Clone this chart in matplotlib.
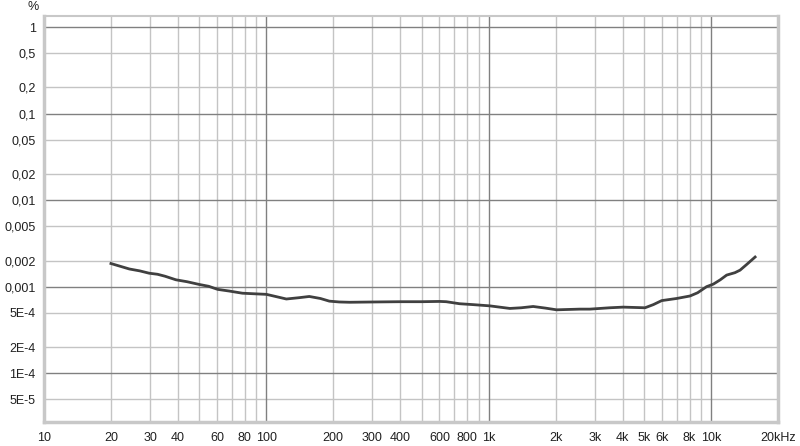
import math
import matplotlib
matplotlib.use("Agg")
import matplotlib.pyplot as plt
from matplotlib.ticker import FixedLocator, NullLocator, NullFormatter

freq_hz = [20, 24.2, 27, 29.7, 32.4, 35, 39.2, 44, 49.9, 55, 60.4, 68, 78, 90, 100,
           110, 123, 140, 156, 175, 192, 213, 237, 301, 400, 500, 601, 644, 739, 850,
           1010, 1245, 1400, 1585, 1800, 2019, 2570, 2850, 3500, 4030, 5045, 5500, 6000,
           7000, 8040, 8700, 9550, 10240, 11000, 11750, 12800, 13500, 14480, 15780]
thd_pct = [1.85e-3, 1.60e-3, 1.52e-3, 1.43e-3, 1.39e-3, 1.32e-3, 1.20e-3, 1.14e-3, 1.06e-3, 1.01e-3,
           0.93e-3, 0.89e-3, 0.84e-3, 0.825e-3, 0.815e-3,
           0.77e-3, 0.72e-3, 0.745e-3, 0.77e-3, 0.73e-3, 0.68e-3, 0.665e-3, 0.66e-3, 0.665e-3, 0.67e-3,
           0.67e-3, 0.675e-3, 0.67e-3, 0.635e-3, 0.62e-3,
           0.60e-3, 0.56e-3, 0.57e-3, 0.59e-3, 0.565e-3, 0.54e-3, 0.55e-3, 0.55e-3, 0.57e-3, 0.58e-3,
           0.57e-3, 0.62e-3, 0.69e-3,
           0.73e-3, 0.78e-3, 0.85e-3, 1.0e-3, 1.07e-3, 1.2e-3, 1.36e-3, 1.45e-3, 1.55e-3, 1.81e-3, 2.2e-3]

x_tick_vals = [10, 20, 30, 40, 60, 80, 100, 200, 300, 400, 600, 800, 1000,
               2000, 3000, 4000, 5000, 6000, 8000, 10000, 20000]
x_tick_labels = ["10", "20", "30", "40", "60", "80", "100", "200", "300", "400", "600", "800", "1k",
                 "2k", "3k", "4k", "5k", "6k", "8k", "10k", "20kHz"]
y_tick_vals = [1, 0.5, 0.2, 0.1, 0.05, 0.02, 0.01, 0.005, 0.002, 0.001, 5e-4, 2e-4, 1e-4, 5e-5]
y_tick_labels = ["1", "0,5", "0,2", "0,1", "0,05", "0,02", "0,01", "0,005", "0,002", "0,001",
                 "5E-4", "2E-4", "1E-4", "5E-5"]

plt.rcParams['font.family'] = ['Liberation Sans', 'DejaVu Sans']

fig = plt.figure(figsize=(8, 4.46), dpi=100)
ax = fig.add_axes([44/800, 24/446, (778-44)/800, (422-16)/446])
ax.set_xscale('log')
ax.set_yscale('log')
ax.set_xlim(10, 20000)
ax.set_ylim(2.73e-5, 1.34)

minor_x = [m * d for d in (10, 100, 1000, 10000) for m in range(2, 10) if m * d < 20000]
for xv in minor_x:
    ax.axvline(xv, color='#c4c4c4', lw=1, zorder=1)
for xv in (100, 1000, 10000):
    ax.axvline(xv, color='#808080', lw=1, zorder=1.1)
for yv in y_tick_vals:
    major = abs(round(math.log10(yv)) - math.log10(yv)) < 1e-9
    ax.axhline(yv, color='#808080' if major else '#c4c4c4', lw=1, zorder=1.1 if major else 1)

ax.plot(freq_hz, thd_pct, color='#404040', lw=2, zorder=3, solid_joinstyle='round')

ax.xaxis.set_major_locator(FixedLocator(x_tick_vals))
ax.xaxis.set_minor_locator(NullLocator())
ax.xaxis.set_minor_formatter(NullFormatter())
ax.set_xticklabels(x_tick_labels)
ax.yaxis.set_major_locator(FixedLocator(y_tick_vals))
ax.yaxis.set_minor_locator(NullLocator())
ax.yaxis.set_minor_formatter(NullFormatter())
ax.set_yticklabels(y_tick_labels)
ax.tick_params(axis='both', length=0, labelsize=9, colors='#202020')
ax.tick_params(axis='x', pad=7)
ax.tick_params(axis='y', pad=6)

for name, s in ax.spines.items():
    s.set_color('#c8c8c8')
    s.set_linewidth(1.5 if name == 'top' else 2.5)

fig.text(33/800, 1 - 7/446, '%', fontsize=9, color='#202020', ha='center', va='center')

fig.savefig('out.png', dpi=100, facecolor='white')
